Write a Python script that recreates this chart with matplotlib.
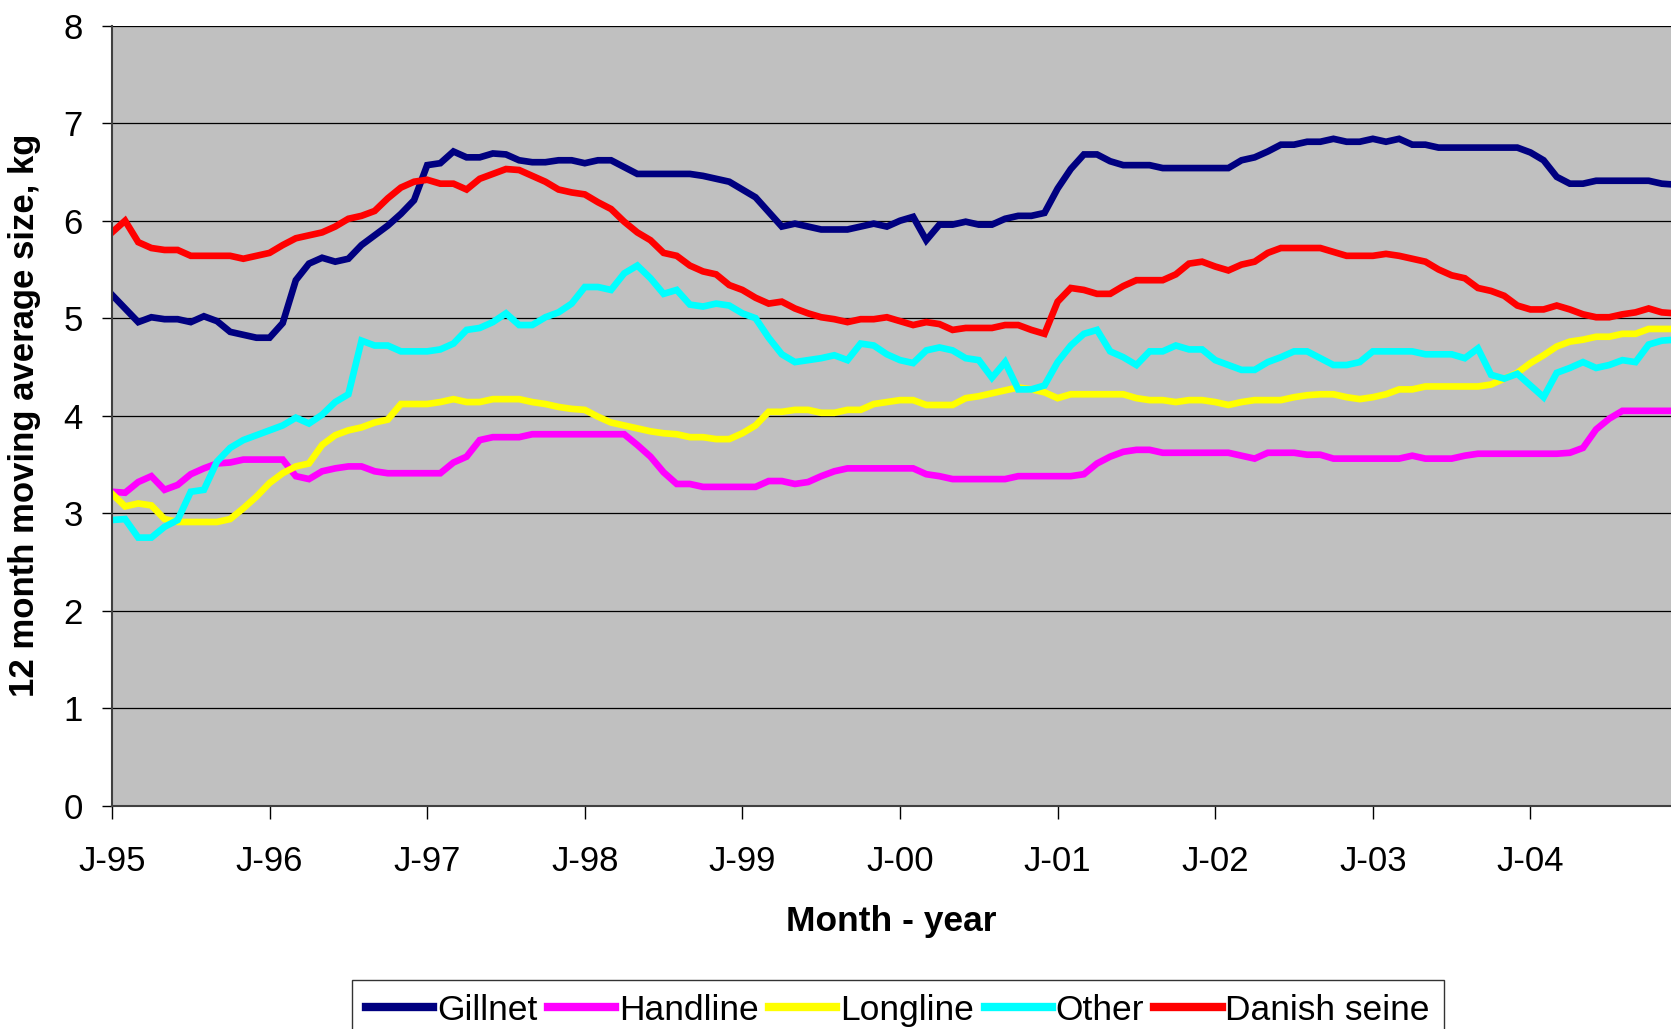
import matplotlib.pyplot as plt

plt.rcParams['font.family'] = ['Liberation Sans', 'DejaVu Sans']

# monthly 12-month moving averages, Jan-95 .. Dec-04
gillnet = [5.24, 5.10, 4.96, 5.01, 4.99, 4.99, 4.96, 5.02, 4.97, 4.86, 4.83, 4.80,
           4.80, 4.95, 5.39, 5.56, 5.62, 5.58, 5.61, 5.75, 5.85, 5.95, 6.07, 6.21,
           6.57, 6.59, 6.71, 6.65, 6.65, 6.69, 6.68, 6.62, 6.60, 6.60, 6.62, 6.62,
           6.59, 6.62, 6.62, 6.55, 6.48, 6.48, 6.48, 6.48, 6.48, 6.46, 6.43, 6.40,
           6.32, 6.24, 6.09, 5.94, 5.97, 5.94, 5.91, 5.91, 5.91, 5.94, 5.97, 5.94,
           6.00, 6.04, 5.80, 5.96, 5.96, 5.99, 5.96, 5.96, 6.02, 6.05, 6.05, 6.08,
           6.33, 6.53, 6.68, 6.68, 6.61, 6.57, 6.57, 6.57, 6.54, 6.54, 6.54, 6.54,
           6.54, 6.54, 6.62, 6.65, 6.71, 6.78, 6.78, 6.81, 6.81, 6.84, 6.81, 6.81,
           6.84, 6.81, 6.84, 6.78, 6.78, 6.75, 6.75, 6.75, 6.75, 6.75, 6.75, 6.75,
           6.70, 6.62, 6.45, 6.38, 6.38, 6.41, 6.41, 6.41, 6.41, 6.41, 6.38, 6.37]

handline = [3.22, 3.21, 3.32, 3.38, 3.24, 3.29, 3.40, 3.46, 3.51, 3.52, 3.55, 3.55,
            3.55, 3.55, 3.38, 3.35, 3.43, 3.46, 3.48, 3.48, 3.43, 3.41, 3.41, 3.41,
            3.41, 3.41, 3.52, 3.58, 3.75, 3.78, 3.78, 3.78, 3.81, 3.81, 3.81, 3.81,
            3.81, 3.81, 3.81, 3.81, 3.70, 3.58, 3.42, 3.30, 3.30, 3.27, 3.27, 3.27,
            3.27, 3.27, 3.33, 3.33, 3.30, 3.32, 3.38, 3.43, 3.46, 3.46, 3.46, 3.46,
            3.46, 3.46, 3.40, 3.38, 3.35, 3.35, 3.35, 3.35, 3.35, 3.38, 3.38, 3.38,
            3.38, 3.38, 3.40, 3.51, 3.58, 3.63, 3.65, 3.65, 3.62, 3.62, 3.62, 3.62,
            3.62, 3.62, 3.59, 3.56, 3.62, 3.62, 3.62, 3.60, 3.60, 3.56, 3.56, 3.56,
            3.56, 3.56, 3.56, 3.59, 3.56, 3.56, 3.56, 3.59, 3.61, 3.61, 3.61, 3.61,
            3.61, 3.61, 3.61, 3.62, 3.67, 3.86, 3.97, 4.05, 4.05, 4.05, 4.05, 4.05]

longline = [3.20, 3.07, 3.10, 3.08, 2.94, 2.91, 2.91, 2.91, 2.91, 2.94, 3.05, 3.17,
            3.31, 3.41, 3.48, 3.51, 3.70, 3.80, 3.85, 3.88, 3.93, 3.96, 4.12, 4.12,
            4.12, 4.14, 4.17, 4.14, 4.14, 4.17, 4.17, 4.17, 4.14, 4.12, 4.09, 4.07,
            4.06, 3.99, 3.93, 3.90, 3.87, 3.84, 3.82, 3.81, 3.78, 3.78, 3.76, 3.76,
            3.82, 3.90, 4.04, 4.04, 4.06, 4.06, 4.03, 4.03, 4.06, 4.06, 4.12, 4.14,
            4.16, 4.16, 4.11, 4.11, 4.11, 4.18, 4.20, 4.23, 4.26, 4.29, 4.27, 4.24,
            4.18, 4.22, 4.22, 4.22, 4.22, 4.22, 4.18, 4.16, 4.16, 4.14, 4.16, 4.16,
            4.14, 4.11, 4.14, 4.16, 4.16, 4.16, 4.19, 4.21, 4.22, 4.22, 4.19, 4.17,
            4.19, 4.22, 4.27, 4.27, 4.30, 4.30, 4.30, 4.30, 4.30, 4.32, 4.38, 4.44,
            4.54, 4.62, 4.71, 4.76, 4.78, 4.81, 4.81, 4.84, 4.84, 4.89, 4.89, 4.89]

other = [2.93, 2.94, 2.75, 2.75, 2.86, 2.93, 3.22, 3.24, 3.53, 3.67, 3.75, 3.80,
         3.85, 3.90, 3.98, 3.92, 4.01, 4.14, 4.22, 4.77, 4.72, 4.72, 4.66, 4.66,
         4.66, 4.68, 4.74, 4.88, 4.90, 4.96, 5.05, 4.93, 4.93, 5.01, 5.06, 5.15,
         5.32, 5.32, 5.29, 5.46, 5.54, 5.41, 5.25, 5.29, 5.14, 5.12, 5.15, 5.13,
         5.05, 5.00, 4.80, 4.63, 4.55, 4.57, 4.59, 4.62, 4.57, 4.74, 4.72, 4.63,
         4.57, 4.54, 4.67, 4.70, 4.67, 4.59, 4.57, 4.39, 4.55, 4.27, 4.27, 4.31,
         4.55, 4.72, 4.84, 4.88, 4.66, 4.60, 4.52, 4.66, 4.66, 4.72, 4.68, 4.68,
         4.57, 4.52, 4.47, 4.47, 4.55, 4.60, 4.66, 4.66, 4.59, 4.52, 4.52, 4.55,
         4.66, 4.66, 4.66, 4.66, 4.63, 4.63, 4.63, 4.59, 4.69, 4.42, 4.38, 4.43,
         4.31, 4.19, 4.44, 4.49, 4.55, 4.49, 4.52, 4.57, 4.55, 4.73, 4.77, 4.78]

danish_seine = [5.88, 6.00, 5.78, 5.72, 5.70, 5.70, 5.64, 5.64, 5.64, 5.64, 5.61, 5.64,
                5.67, 5.75, 5.82, 5.85, 5.88, 5.94, 6.02, 6.05, 6.10, 6.23, 6.34, 6.40,
                6.42, 6.38, 6.38, 6.32, 6.43, 6.48, 6.53, 6.52, 6.46, 6.40, 6.32, 6.29,
                6.27, 6.19, 6.12, 5.99, 5.88, 5.80, 5.67, 5.64, 5.54, 5.48, 5.45, 5.34,
                5.29, 5.21, 5.15, 5.17, 5.10, 5.05, 5.01, 4.99, 4.96, 4.99, 4.99, 5.01,
                4.97, 4.93, 4.96, 4.94, 4.88, 4.90, 4.90, 4.90, 4.93, 4.93, 4.88, 4.84,
                5.17, 5.31, 5.29, 5.25, 5.25, 5.33, 5.39, 5.39, 5.39, 5.45, 5.56, 5.58,
                5.53, 5.49, 5.55, 5.58, 5.67, 5.72, 5.72, 5.72, 5.72, 5.68, 5.64, 5.64,
                5.64, 5.66, 5.64, 5.61, 5.58, 5.50, 5.44, 5.41, 5.31, 5.28, 5.23, 5.13,
                5.09, 5.09, 5.13, 5.09, 5.04, 5.01, 5.01, 5.04, 5.06, 5.10, 5.06, 5.05]

year_labels = ['J-95', 'J-96', 'J-97', 'J-98', 'J-99', 'J-00', 'J-01', 'J-02', 'J-03', 'J-04']

months = list(range(len(gillnet)))

fig = plt.figure(figsize=(16.71, 10.29), dpi=100)
ax = fig.add_axes([0.067, 0.217, 0.933, 0.758])
ax.set_facecolor('#c0c0c0')

series = [('Gillnet', gillnet, '#000080'),
          ('Handline', handline, '#ff00ff'),
          ('Longline', longline, '#ffff00'),
          ('Other', other, '#00ffff'),
          ('Danish seine', danish_seine, '#ff0000')]

for name, vals, col in series:
    ax.plot(months, vals, color=col, lw=4.8, label=name, solid_joinstyle='miter')

ax.set_xlim(0, 118.7)
ax.set_ylim(0, 8)
ax.set_yticks(range(0, 9))
ax.set_xticks(range(0, 12 * len(year_labels), 12))
ax.set_xticklabels(year_labels)
ax.yaxis.grid(True, color='black', lw=0.9)
ax.set_axisbelow(True)

for s in ['top', 'right']:
    ax.spines[s].set_visible(False)
for s in ['left', 'bottom']:
    ax.spines[s].set_color('#404040')
    ax.spines[s].set_linewidth(1.5)

ax.tick_params(axis='x', direction='out', length=9, width=1, pad=19, labelsize=25)
ax.tick_params(axis='y', direction='out', length=7, width=1, pad=14, labelsize=25)

ax.set_xlabel('Month - year', fontsize=25.5, fontweight='bold', labelpad=20)
ax.set_ylabel('12 month moving average size, kg', fontsize=25, fontweight='bold', labelpad=16)

leg = fig.legend(loc='upper center', bbox_to_anchor=(0.5374, 0.048), ncol=5,
                 fontsize=25.5, frameon=True, fancybox=False, edgecolor='black',
                 handlelength=1.9, handletextpad=0.1, columnspacing=0.3,
                 borderpad=0.4, borderaxespad=0)
leg.get_frame().set_linewidth(1.0)
for line in leg.get_lines():
    line.set_linewidth(6)

fig.savefig('out.png', dpi=100)
